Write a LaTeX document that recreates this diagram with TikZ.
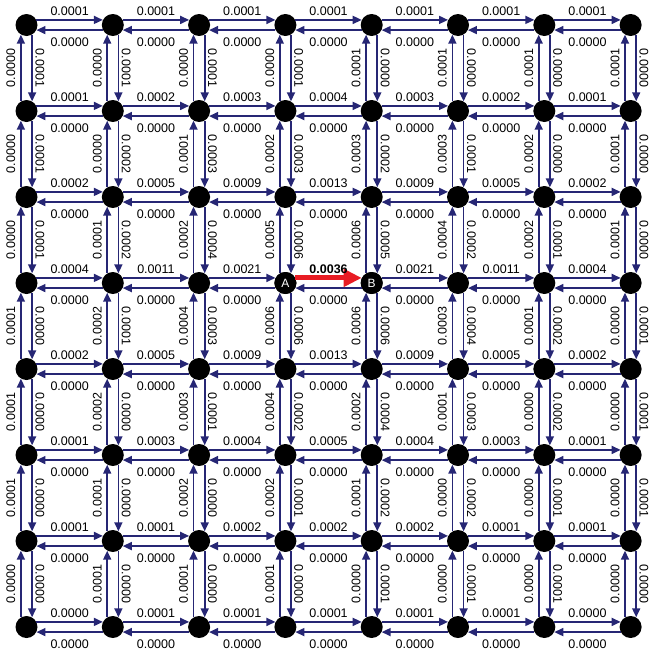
\documentclass[tikz,border=0pt]{standalone}
\usepackage{fontspec}
\setmainfont{Liberation Sans}
\usetikzlibrary{arrows.meta}

\definecolor{edgeblue}{RGB}{38,38,116}
\definecolor{pathred}{RGB}{232,28,36}

\newcommand{\flowval}[1]{0.00#1}

\tikzset{
  vertex/.style={circle, fill=black, minimum size=22pt, inner sep=0pt},
  flow/.style={draw=edgeblue, line width=1.7pt, -{Triangle[length=9pt,width=8pt]}},
  bestflow/.style={draw=pathred, line width=5pt, -{Triangle[length=18pt,width=17pt]}},
  num/.style={midway, inner sep=0pt, text=black, font=\fontsize{12.5}{14}\selectfont},
  toplab/.style={num, yshift=8.5pt},
  botlab/.style={num, yshift=-12pt},
  leftlab/.style={num, xshift=-10pt, rotate=90},
  rightlab/.style={num, xshift=7.8pt, rotate=-90}
}

\begin{document}
\begin{tikzpicture}[x=1pt,y=1pt]
  \useasboundingbox (0,0) rectangle (649,-651);

  % vertices
  \foreach \r in {0,...,7}
    \foreach \c in {0,...,7}
      \node[vertex] (v\r\c) at (26.5+86.3*\c,-25-86*\r) {};
  \node[vertex, text=white, font=\fontsize{12}{14}\selectfont] (A) at (v33) {A};
  \node[vertex, text=white, font=\fontsize{12}{14}\selectfont] (B) at (v34) {B};

  % horizontal flows: rightward value per row, leftward all zero
  \foreach \r/\row in {0/{01,01,01,01,01,01,01},
                       1/{01,02,03,04,03,02,01},
                       2/{02,05,09,13,09,05,02},
                       3/{04,11,21,36,21,11,04},
                       4/{02,05,09,13,09,05,02},
                       5/{01,03,04,05,04,03,01},
                       6/{01,01,02,02,02,01,01},
                       7/{00,01,01,01,01,01,00}}
    \foreach \v [count=\c from 0] in \row {
      \pgfmathtruncatemacro\n{\c+1}
      \ifnum\r\c=33\relax\else
        \draw[flow] (v\r\c.27) -- (v\r\n.153) node[toplab] {\flowval{\v}};
      \fi
      \draw[flow] (v\r\n.207) -- (v\r\c.333) node[botlab] {\flowval{00}};
    }

  % vertical flows: up/down value per column
  \foreach \r/\row in {0/{00/01,00/01,00/01,00/01,01/00,01/00,01/00,01/00},
                       1/{00/01,00/02,01/03,02/03,03/02,03/01,02/00,01/00},
                       2/{00/01,01/02,02/04,05/06,06/05,04/02,02/01,01/00},
                       3/{01/00,02/01,04/03,06/06,06/06,03/04,01/02,00/01},
                       4/{01/00,02/00,03/01,04/02,02/04,01/03,00/02,00/01},
                       5/{01/00,01/00,02/00,02/01,01/02,00/02,00/01,00/01},
                       6/{00/00,01/00,01/00,01/00,00/01,00/01,00/01,00/00}}
    \foreach \u/\d [count=\c from 0] in \row {
      \pgfmathtruncatemacro\s{\r+1}
      \draw[flow] (v\s\c.120) -- (v\r\c.240) node[leftlab] {\flowval{\u}};
      \draw[flow] (v\r\c.300) -- (v\s\c.60) node[rightlab] {\flowval{\d}};
    }

  % strongest flow
  \draw[bestflow] (A.27) -- (B.153)
    node[toplab, font=\fontsize{12.5}{14}\selectfont\bfseries] {\flowval{36}};
\end{tikzpicture}
\end{document}
